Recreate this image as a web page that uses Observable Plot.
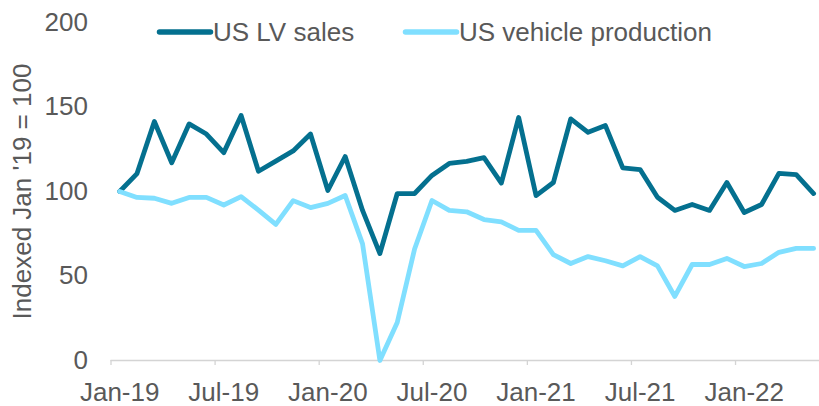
<!DOCTYPE html>
<html>
<head>
<meta charset="utf-8">
<script src="https://cdn.jsdelivr.net/npm/d3@7"></script>
<script src="https://cdn.jsdelivr.net/npm/@observablehq/plot@0.6"></script>
<style>
  body { margin: 0; background: #fff; }
  #chart { position: relative; width: 819px; height: 406px; }
</style>
</head>
<body>
<div id="chart"></div>
<script>
// Months Jan-19 .. May-22 (41 monthly observations)
const months = d3.utcMonth.range(new Date(Date.UTC(2019, 0, 1)), new Date(Date.UTC(2022, 5, 1)))
  .map(d3.utcFormat("%b-%y"));

const seriesNames = ["US LV sales", "US vehicle production"];
const seriesColors = ["#04708f", "#80dfff"];

const lvSales = [100, 110.6, 141.4, 117, 140, 134, 123, 145, 112, 118, 124, 134,
                 100.6, 120.7, 88.8, 63.3, 98.8, 98.8, 109.5, 116.6, 117.8, 120, 105, 143.8,
                 97.6, 105.3, 143, 135, 139, 114, 113, 96.6, 88.8, 92.3, 88.8, 105.3,
                 87.6, 92.3, 110.7, 110, 98.8];

const vehicleProduction = [100, 96.5, 96, 93, 96.5, 96.5, 92, 97, 89, 80.5, 94.6, 90.5,
                           93, 97.6, 69, 0, 22.5, 66, 94.7, 88.8, 88, 83.4, 82, 77,
                           77, 62.7, 57.4, 61.5, 59, 56, 61.5, 56, 37.9, 56.8, 56.8, 60.4,
                           55.6, 57.4, 64, 66.3, 66.3];

const xTickLabels = ["Jan-19", "Jul-19", "Jan-20", "Jul-20", "Jan-21", "Jul-21", "Jan-22"];
const yTicks = [0, 50, 100, 150, 200];
const yLabel = "Indexed Jan '19 = 100";

// Build long-format table
const data = [];
[lvSales, vehicleProduction].forEach((vals, s) => {
  vals.forEach((v, i) => data.push({ i, month: months[i], series: seriesNames[s], value: v }));
});

// category index of each labelled month, and its left boundary for tick marks
const labelIdx = xTickLabels.map(l => months.indexOf(l));
const boundaryIdx = labelIdx.map(i => i - 0.5);

const textColor = "#595959";
const axisColor = "#d4d4d4";
const fontSize = 26;
const fontFamily = "'Liberation Sans', Arial, sans-serif";

const plot = Plot.plot({
  width: 819,
  height: 406,
  marginLeft: 110.5,
  marginRight: 0,
  marginTop: 22,
  marginBottom: 46,
  style: { fontFamily, fontSize: fontSize + "px", color: textColor, background: "#fff" },
  x: { type: "linear", domain: [-0.5, 40.34] },
  y: { domain: [0, 200] },
  color: { domain: seriesNames, range: seriesColors },
  marks: [
    Plot.ruleY([0], { stroke: axisColor, strokeWidth: 1.3 }),
    Plot.axisX(boundaryIdx, { tickSize: 5, tickFormat: () => "", stroke: axisColor, strokeWidth: 1.3, label: null }),
    Plot.axisX(labelIdx, { tickSize: 0, tickPadding: 22, tickFormat: d => xTickLabels[labelIdx.indexOf(d)],
      fill: textColor, fontSize: fontSize, label: null }),
    Plot.axisY(yTicks, { tickSize: 0, tickPadding: 23, fill: textColor, fontSize: fontSize,
      label: yLabel, labelAnchor: "center", labelArrow: "none", labelOffset: 98.5 }),
    Plot.line(data, { x: "i", y: "value", z: "series", stroke: "series", strokeWidth: 4.8,
      strokeLinejoin: "round", strokeLinecap: "round" })
  ]
});

document.getElementById("chart").appendChild(plot);

// Legend overlaid at the top of the plot area
const svg = d3.select(plot.tagName.toLowerCase() === "svg" ? plot : plot.querySelector("svg"));
const legendItems = [
  { name: seriesNames[0], color: seriesColors[0], x: 157 },
  { name: seriesNames[1], color: seriesColors[1], x: 403 }
];
const lg = svg.append("g").attr("font-family", fontFamily).attr("font-size", fontSize).attr("text-anchor", "start");
legendItems.forEach(item => {
  lg.append("line").attr("x1", item.x + 2.5).attr("x2", item.x + 53.5).attr("y1", 32).attr("y2", 32)
    .attr("stroke", item.color).attr("stroke-width", 5.5).attr("stroke-linecap", "round");
  lg.append("text").attr("x", item.x + 56).attr("y", 40.5).attr("fill", textColor).text(item.name);
});
</script>
</body>
</html>
